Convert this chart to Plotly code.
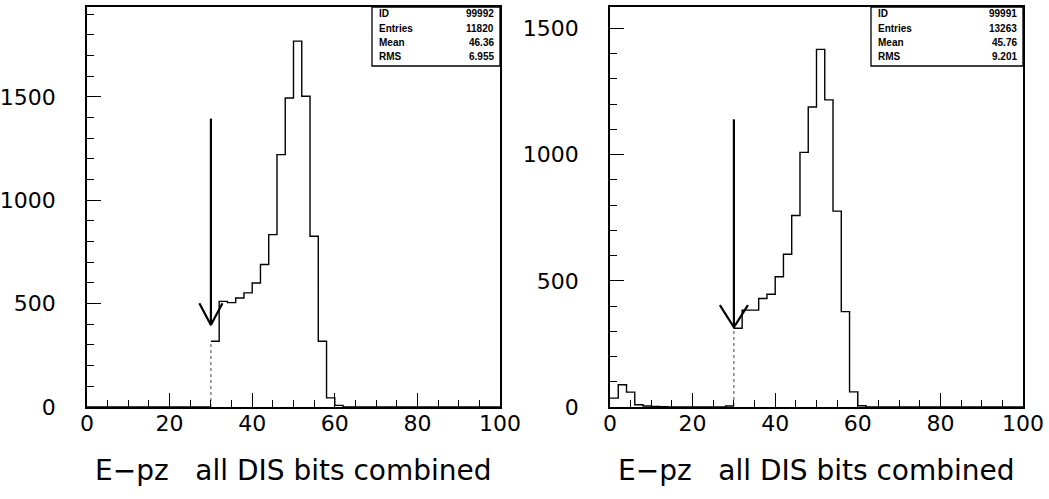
import plotly.graph_objects as go

# ---------------- data ----------------
BIN_WIDTH = 2
BIN_EDGES = list(range(0, 101, BIN_WIDTH))

# Left histogram (ID 99992), counts per 2-unit bin from 0 to 100
left_counts = [
    0, 0, 0, 0, 0, 0, 0, 0, 0, 0,          # 0-20
    0, 0, 0, 0, 0,                          # 20-30
    318, 511, 505, 527, 552,                # 30-40
    600, 689, 834, 1221, 1495,              # 40-50
    1770, 1503, 826, 318, 44,               # 50-60
    8, 0, 0, 0, 0, 0, 0, 0, 0, 0,           # 60-80
    0, 0, 0, 0, 0, 0, 0, 0, 0, 0,           # 80-100
]

# Right histogram (ID 99991)
right_counts = [
    35, 88, 59, 9, 4, 2, 1, 0, 0, 0,        # 0-20
    0, 0, 0, 0, 4,                          # 20-30
    312, 384, 384, 430, 447,                # 30-40
    516, 605, 759, 1009, 1189,              # 40-50
    1417, 1217, 776, 378, 60,               # 50-60
    5, 0, 0, 0, 0, 0, 0, 0, 0, 0,           # 60-80
    0, 0, 0, 0, 0, 0, 0, 0, 0, 0,           # 80-100
]

stat_labels = ["ID", "Entries", "Mean", "RMS"]
left_stats = ["99992", "11820", "46.36", "6.955"]
right_stats = ["99991", "13263", "45.76", "9.201"]

cut_value = 30
left_arrow = (1395, 397)    # (top, tip) in counts
right_arrow = (1140, 316)

x_tick_vals = [0, 20, 40, 60, 80, 100]
y_tick_vals = [0, 500, 1000, 1500]
title_text = "E\u2212pz   all DIS bits combined"

# ---------------- layout constants ----------------
W, H = 1049, 499
PLOT_TOP, PLOT_BOTTOM = 7, 407
LEFT_X = (87, 500)
RIGHT_X = (610, 1023)
LEFT_YMAX = 1935
RIGHT_YMAX = 1585

fig = go.Figure()


def add_panel(counts, arrow, stats, xname, yname, box_left_px, xpix, head_w, head_h):
    ci = BIN_EDGES.index(cut_value)
    line_style = dict(color="black", width=1.4, shape="hv")
    # part below the cut
    xs_lo = BIN_EDGES[:ci] + [BIN_EDGES[ci]]
    ys_lo = counts[:ci] + [counts[ci - 1]]
    fig.add_trace(go.Scatter(x=xs_lo, y=ys_lo, mode="lines", line=line_style,
                             xaxis=xname, yaxis=yname, hoverinfo="skip"))
    # dotted edge at the cut
    fig.add_trace(go.Scatter(x=[cut_value, cut_value], y=[counts[ci - 1], counts[ci]], mode="lines",
                             line=dict(color="#444444", width=1, dash="dot"),
                             xaxis=xname, yaxis=yname, hoverinfo="skip"))
    # part above the cut
    xs_hi = BIN_EDGES[ci:-1] + [BIN_EDGES[-1]]
    ys_hi = counts[ci:] + [counts[-1]]
    fig.add_trace(go.Scatter(x=xs_hi, y=ys_hi, mode="lines", line=line_style,
                             xaxis=xname, yaxis=yname, hoverinfo="skip"))
    top, tip = arrow
    fig.add_trace(go.Scatter(x=[cut_value, cut_value], y=[top, tip], mode="lines",
                             line=dict(color="black", width=2.2), xaxis=xname, yaxis=yname, hoverinfo="skip"))
    fig.add_trace(go.Scatter(x=[cut_value - head_w, cut_value, cut_value + head_w],
                             y=[tip + head_h, tip, tip + head_h], mode="lines",
                             line=dict(color="black", width=2.2), xaxis=xname, yaxis=yname, hoverinfo="skip"))
    pw = xpix[1] - xpix[0]
    ph = PLOT_BOTTOM - PLOT_TOP
    x0 = (box_left_px - xpix[0]) / pw
    box_bottom_px = 66
    y0 = (PLOT_BOTTOM - box_bottom_px) / ph
    fig.add_shape(type="rect", xref=f"{xname} domain", yref=f"{yname} domain",
                  x0=x0, x1=1, y0=y0, y1=1, line=dict(color="black", width=1.3), fillcolor="white")
    rows_px = [14, 28, 42, 56]
    for lab, val, rp in zip(stat_labels, stats, rows_px):
        yy = (PLOT_BOTTOM - rp) / ph
        fig.add_annotation(xref=f"{xname} domain", yref=f"{yname} domain", x=x0 + 5 / pw, y=yy,
                           text=f"<b>{lab}</b>", showarrow=False, xanchor="left", yanchor="middle",
                           font=dict(family="Liberation Sans", size=10, color="black"))
        fig.add_annotation(xref=f"{xname} domain", yref=f"{yname} domain", x=1 - 4 / pw, y=yy,
                           text=f"<b>{val}</b>", showarrow=False, xanchor="right", yanchor="middle",
                           font=dict(family="Liberation Sans", size=10, color="black"))
    fig.add_annotation(xref=f"{xname} domain", yref="paper", x=0.5, y=(H - 470) / H,
                       text=title_text, showarrow=False, xanchor="center", yanchor="middle",
                       font=dict(family="DejaVu Sans", size=28, color="black"))


add_panel(left_counts, left_arrow, left_stats, "x", "y", 372, LEFT_X, 2.8, 105)
add_panel(right_counts, right_arrow, right_stats, "x2", "y2", 871, RIGHT_X, 3.4, 88)

ydom = [(H - PLOT_BOTTOM) / H, (H - PLOT_TOP) / H]
tick_font = dict(family="DejaVu Sans", size=22, color="black")

xcommon = dict(range=[0, 100], tickvals=x_tick_vals, ticks="inside", ticklen=14, tickwidth=1.3,
               tickcolor="black", minor=dict(ticks="inside", ticklen=7, dtick=5, tickcolor="black", tickwidth=1.3),
               showline=True, linecolor="black", linewidth=1.5, mirror=True, showgrid=False,
               zeroline=False, tickfont=tick_font, ticklabelstandoff=-4, fixedrange=True, automargin=False)
ycommon = dict(tickvals=y_tick_vals, ticks="inside", ticklen=14, tickwidth=1.3, tickcolor="black",
               minor=dict(ticks="inside", ticklen=7, dtick=100, tickcolor="black", tickwidth=1.3),
               showline=True, linecolor="black", linewidth=1.5, mirror=True, showgrid=False,
               zeroline=False, tickfont=tick_font, ticklabelstandoff=25, fixedrange=True, automargin=False)

fig.update_layout(
    width=W, height=H, margin=dict(l=0, r=0, t=0, b=0, pad=0, autoexpand=False),
    paper_bgcolor="white", plot_bgcolor="white", showlegend=False,
    xaxis=dict(domain=[LEFT_X[0] / W, LEFT_X[1] / W], anchor="y", **xcommon),
    yaxis=dict(domain=ydom, range=[0, LEFT_YMAX], anchor="x", **ycommon),
    xaxis2=dict(domain=[RIGHT_X[0] / W, RIGHT_X[1] / W], anchor="y2", **xcommon),
    yaxis2=dict(domain=ydom, range=[0, RIGHT_YMAX], anchor="x2", **ycommon),
)

fig.write_html(
    "out.html",
    config={"displayModeBar": False},
    post_script="document.body.style.margin='0';document.body.style.overflow='hidden';",
)
